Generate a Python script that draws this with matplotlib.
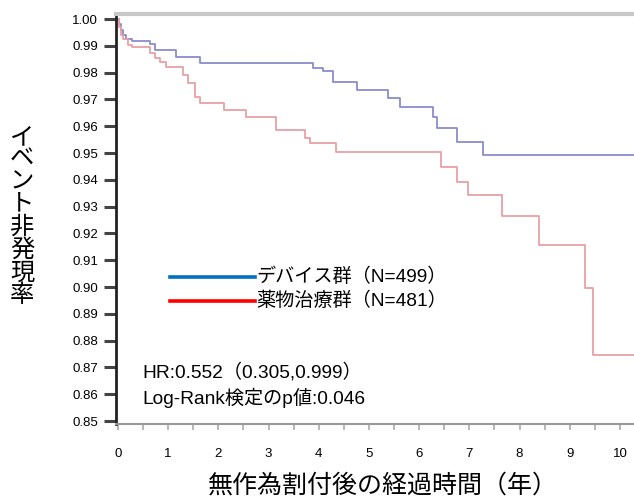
import matplotlib
matplotlib.use('Agg')
import matplotlib.pyplot as plt
import numpy as np

# Kaplan-Meier style step data
device_t = [0, 0.02, 0.05, 0.09, 0.15, 0.28, 0.64, 0.74, 1.16, 1.63, 3.88, 4.08, 4.28,
            4.76, 5.38, 5.62, 6.27, 6.35, 6.75, 7.27, 10.3]
device_s = [1.0, 0.998, 0.996, 0.994, 0.9925, 0.992, 0.9907, 0.9884, 0.9858, 0.9836,
            0.9817, 0.9806, 0.9765, 0.9735, 0.9705, 0.9672, 0.9634, 0.9593, 0.9541,
            0.9493, 0.9493]

drug_t = [0, 0.02, 0.06, 0.1, 0.2, 0.28, 0.64, 0.74, 0.84, 0.96, 1.29, 1.39, 1.53, 1.63,
          2.11, 2.55, 3.15, 3.73, 3.82, 4.34, 6.43, 6.75, 6.97, 7.65, 8.39, 9.30, 9.46, 10.3]
drug_s = [1.0, 0.997, 0.994, 0.9925, 0.9905, 0.9895, 0.9873, 0.9854, 0.984, 0.9821,
          0.9791, 0.9761, 0.9709, 0.9687, 0.966, 0.9634, 0.9586, 0.9556, 0.9537, 0.9504,
          0.9448, 0.9392, 0.9343, 0.9265, 0.9157, 0.8996, 0.8746, 0.8746]

x_ticks = list(range(0, 11))
y_ticks = [round(0.85 + 0.01 * i, 2) for i in range(16)]

legend_labels = ['デバイス群（N=499）', '薬物治療群（N=481）']
stats_lines = ['HR:0.552（0.305,0.999）', 'Log-Rank検定のp値:0.046']
xlabel = '無作為割付後の経過時間（年）'
ylabel = 'イベント非発現率'

fams = ['Liberation Sans', 'Noto Sans CJK JP', 'DejaVu Sans']
plt.rcParams['font.family'] = fams

fig = plt.figure(figsize=(6.34, 4.99), dpi=100)
ax = fig.add_axes([116 / 634, 1 - 424 / 499, 1 - 116 / 634, (424 - 14) / 499])

ax.step(device_t, device_s, where='post', color='#8a8ccc', lw=1.3)
ax.step(drug_t, drug_s, where='post', color='#e8a0a4', lw=1.3)

ax.set_xlim(-0.04, 10.28)
ax.set_ylim(0.8489, 1.0019)

ax.set_yticks(y_ticks)
ax.set_yticklabels(['%.2f' % v for v in y_ticks], fontsize=9.5)
ax.tick_params(axis='y', direction='out', length=9, width=2.2, color='#444444', pad=4)

ax.set_xticks(np.arange(0, 10.5, 0.5), minor=True)
ax.set_xticks(x_ticks)
ax.set_xticklabels([str(v) for v in x_ticks], fontsize=9.5)
ax.tick_params(axis='x', which='both', direction='out', length=4, width=1.2,
               color='#aaaaaa', pad=13)

ax.spines['left'].set_color('#222222')
ax.spines['left'].set_linewidth(2)
ax.spines['top'].set_color('#c8c8c8')
ax.spines['top'].set_linewidth(3)
ax.spines['bottom'].set_color('#999999')
ax.spines['bottom'].set_linewidth(1.5)
ax.spines['right'].set_visible(False)

# legend drawn by hand as in the original
fig.add_artist(plt.Line2D([170 / 634, 255 / 634], [1 - 277 / 499] * 2, color='#0070c0', lw=2.6))
fig.add_artist(plt.Line2D([170 / 634, 255 / 634], [1 - 301 / 499] * 2, color='#ff0000', lw=2.6))
fig.text(256 / 634, 1 - 277 / 499, legend_labels[0], fontsize=13.8, va='center', ha='left')
fig.text(256 / 634, 1 - 301 / 499, legend_labels[1], fontsize=13.8, va='center', ha='left')

fig.text(142 / 634, 1 - 372 / 499, stats_lines[0], fontsize=13.8, va='center', ha='left')
fig.text(142 / 634, 1 - 398 / 499, stats_lines[1], fontsize=13.8, va='center', ha='left')

fig.text(383 / 634, 1 - 486 / 499, xlabel, fontsize=18, va='center', ha='center')
fig.text(22 / 634, 1 - 217 / 499, '\n'.join(ylabel), fontsize=17.5, va='center', ha='center',
         linespacing=1.02)

fig.savefig('out.png', dpi=100)
